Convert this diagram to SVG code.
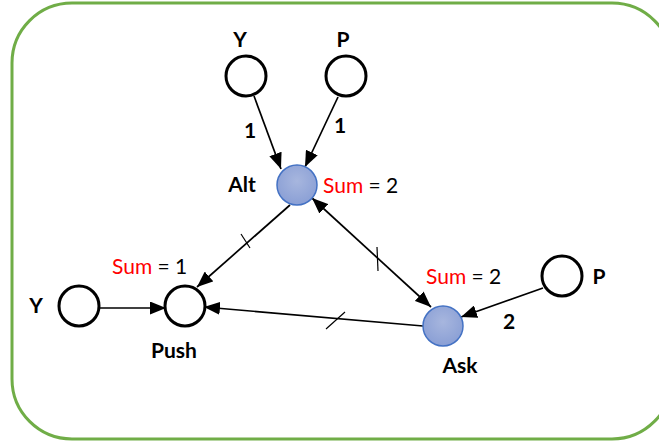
<svg xmlns="http://www.w3.org/2000/svg" width="659" height="443" viewBox="0 0 659 443">
<defs>
<marker id="ah" viewBox="0 0 16 13" refX="16" refY="6.5" markerWidth="16" markerHeight="13" markerUnits="userSpaceOnUse" orient="auto-start-reverse">
<path d="M0,0 L16,6.5 L0,13 Z" fill="#000"/>
</marker>
<radialGradient id="bg" cx="0.5" cy="0.4" r="0.6">
<stop offset="0" stop-color="#A7B6DE"/>
<stop offset="1" stop-color="#8A9FD5"/>
</radialGradient>
</defs>
<style>
.w{fill:#fff;stroke:#000;stroke-width:3}
.b{fill:url(#bg);stroke:#4472C4;stroke-width:1.5}
.t{font-family:Lato,"Liberation Sans",sans-serif;font-size:21px;font-weight:bold;fill:#000}
.s{font-family:Lato,"Liberation Sans",sans-serif;font-size:21px;fill:#000}
.r{fill:#FF0000}
.e{stroke:#000;stroke-width:1.7;fill:none}
.k{stroke:#000;stroke-width:1.2}
</style>
<rect x="12" y="3" width="660" height="436" rx="60" ry="60" fill="#fff" stroke="#70AD47" stroke-width="3"/>
<g id="connectors">
<line class="e" x1="254" y1="96" x2="281" y2="169" marker-end="url(#ah)"/>
<line class="e" x1="338" y1="97" x2="305" y2="167" marker-end="url(#ah)"/>
<line class="e" x1="290" y1="205" x2="197" y2="287" marker-end="url(#ah)"/>
<line class="k" x1="241" y1="234" x2="250" y2="248"/>
<line class="e" x1="312" y1="198" x2="431" y2="307" marker-start="url(#ah)" marker-end="url(#ah)"/>
<line class="k" x1="377" y1="247" x2="378" y2="271"/>
<line class="e" x1="423" y1="326" x2="204" y2="307" marker-end="url(#ah)"/>
<line class="k" x1="326" y1="329" x2="345" y2="312"/>
<line class="e" x1="99" y1="308" x2="166" y2="308" marker-end="url(#ah)"/>
<line class="e" x1="543" y1="288" x2="461" y2="317" marker-end="url(#ah)"/>
</g>
<g id="y-top"><circle class="w" cx="246" cy="76" r="20"/><text class="t" x="240" y="47" text-anchor="middle">Y</text></g>
<g id="p-top"><circle class="w" cx="346" cy="76" r="20"/><text class="t" x="343" y="47" text-anchor="middle">P</text></g>
<g id="alt"><circle class="b" cx="297" cy="185" r="20"/><text class="t" x="242" y="192" text-anchor="middle">Alt</text>
<text class="s" x="323" y="193"><tspan class="r">Sum</tspan> = 2</text></g>
<g id="push"><circle class="w" cx="185" cy="306" r="20"/><text class="t" x="174" y="358" text-anchor="middle">Push</text>
<text class="s" x="112" y="274"><tspan class="r">Sum</tspan> = 1</text></g>
<g id="y-left"><circle class="w" cx="79" cy="306" r="20"/><text class="t" x="36" y="313" text-anchor="middle">Y</text></g>
<g id="ask"><circle class="b" cx="443" cy="326" r="20"/><text class="t" x="460" y="373" text-anchor="middle">Ask</text>
<text class="s" x="426" y="284"><tspan class="r">Sum</tspan> = 2</text></g>
<g id="p-right"><circle class="w" cx="562" cy="276" r="20"/><text class="t" x="599" y="284" text-anchor="middle">P</text></g>
<text class="t" x="250" y="138" text-anchor="middle">1</text>
<text class="t" x="340" y="133" text-anchor="middle">1</text>
<text class="t" x="509" y="329" text-anchor="middle">2</text>
</svg>
